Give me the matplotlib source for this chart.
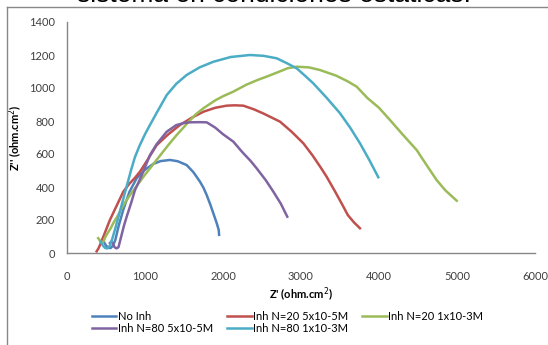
import matplotlib.pyplot as plt
from matplotlib.lines import Line2D

plt.rcParams['font.family'] = ['Lato', 'DejaVu Sans']

# Nyquist data (Z' , Z'')
no_inh_x = [470, 500, 530, 560, 590, 620, 660, 720, 800, 893, 1000, 1107, 1200, 1320, 1420,
            1534, 1620, 1705, 1750, 1791, 1840, 1880, 1920, 1945, 1950]
no_inh_y = [70, 45, 32, 30, 45, 80, 160, 260, 370, 453, 505, 540, 557, 564, 556,
            533, 490, 432, 395, 351, 290, 235, 180, 140, 110]

n20_5_x = [380, 400, 420, 440, 466, 500, 550, 600, 640, 680, 722, 800, 870, 936, 1040, 1150,
           1300, 1449, 1600, 1748, 1900, 2047, 2150, 2260, 2400, 2520, 2645, 2731, 2880,
           3030, 3150, 3250, 3329, 3440, 3543, 3600, 3680, 3756]
n20_5_y = [10, 25, 45, 70, 99, 140, 200, 250, 290, 330, 372, 420, 455, 493, 570, 654,
           720, 776, 820, 856, 880, 893, 895, 893, 870, 845, 816, 796, 735,
           665, 590, 520, 462, 370, 281, 230, 185, 150]

n20_1_x = [400, 430, 450, 470, 490, 520, 560, 592, 650, 700, 750, 808, 900, 1000, 1064, 1200,
           1300, 1406, 1550, 1650, 1748, 1900, 2000, 2132, 2300, 2450, 2560, 2700, 2830,
           2945, 3100, 3243, 3450, 3600, 3714, 3850, 4000, 4141, 4300, 4483, 4600, 4739,
           4850, 4996]
n20_1_y = [90, 70, 60, 72, 95, 120, 150, 180, 225, 270, 310, 351, 410, 475, 513, 595,
           655, 715, 790, 840, 877, 925, 950, 978, 1020, 1050, 1069, 1095, 1120,
           1129, 1125, 1109, 1075, 1040, 1008, 940, 880, 806, 720, 624, 540, 442,
           380, 317]

n80_5_x = [550, 570, 590, 610, 635, 660, 700, 730, 765, 820, 872, 957, 1064, 1150, 1278,
           1400, 1500, 1577, 1700, 1791, 1900, 2000, 2132, 2250, 2350, 2432, 2550, 2645,
           2740, 2824]
n80_5_y = [60, 70, 55, 35, 28, 35, 110, 165, 220, 300, 382, 470, 594, 660, 735,
           775, 788, 792, 793, 792, 760, 720, 675, 610, 560, 513, 440, 372,
           300, 220]

n80_1_x = [430, 460, 490, 520, 550, 580, 620, 660, 700, 740, 780, 820, 870, 930, 1000, 1064,
           1150, 1278, 1400, 1534, 1700, 1876, 2100, 2346, 2520, 2688, 2820, 2945, 3050,
           3158, 3330, 3500, 3630, 3756, 3880, 3991]
n80_1_y = [70, 45, 30, 28, 45, 85, 150, 220, 290, 360, 430, 500, 580, 650, 720, 776,
           850, 957, 1025, 1079, 1125, 1159, 1188, 1200, 1195, 1180, 1150, 1119, 1075,
           1028, 940, 847, 760, 665, 560, 459]

labels = ['No Inh', 'Inh N=20 5x10-5M', 'Inh N=20 1x10-3M',
          'Inh N=80 5x10-5M', 'Inh N=80 1x10-3M']
colors = ['#4F81BD', '#C0504D', '#9BBB59', '#8064A2', '#4BACC6']

fig = plt.figure(figsize=(5.48, 3.45), dpi=100)
ax = fig.add_axes([67/548, 1-253/345, (535-67)/548, (253-22)/345])

series = [(no_inh_x, no_inh_y), (n20_5_x, n20_5_y), (n20_1_x, n20_1_y),
          (n80_5_x, n80_5_y), (n80_1_x, n80_1_y)]
lines = []
for (xs, ys), lab, col in zip(series, labels, colors):
    l, = ax.plot(xs, ys, color=col, lw=1.8, label=lab, solid_joinstyle='round')
    lines.append(l)

ax.set_xlim(0, 6000)
ax.set_ylim(0, 1400)
ax.set_xticks(range(0, 6001, 1000))
ax.set_yticks(range(0, 1401, 200))
for s in ['top', 'right']:
    ax.spines[s].set_visible(False)
for s in ['left', 'bottom']:
    ax.spines[s].set_color('#868686')
    ax.spines[s].set_linewidth(1)
ax.tick_params(length=0, labelsize=8, colors='#404040')
ax.tick_params(axis='y', pad=8.5)
ax.tick_params(axis='x', pad=13)

ax.set_xlabel("Z' (ohm.cm$^2$)", fontsize=8, fontweight='bold', labelpad=3)
ax.set_ylabel("Z'' (ohm.cm$^2$)", fontsize=8, fontweight='bold', labelpad=3)

# legend rows: A B C / D E
order = [0, 3, 1, 4, 2]
fig.legend([lines[i] for i in order], [labels[i] for i in order],
           ncol=3, loc='upper left', bbox_to_anchor=(92/548, 1-311/345),
           frameon=False, fontsize=8, handlelength=2.2, handletextpad=0.1,
           columnspacing=1.3, labelspacing=0.1, borderpad=0, borderaxespad=0)

# chart area border and cut-off title above
fig.add_artist(Line2D([7/548, 7/548], [0, 1-7/345], color='#888888', lw=1))
fig.add_artist(Line2D([7/548, 1], [1-7/345, 1-7/345], color='#888888', lw=1))
fig.text(274/548, 1-2.5/345, 'sistema en condiciones estáticas:', ha='center',
         va='baseline', fontsize=19, family='Liberation Sans', color='black')

fig.savefig('out.png', dpi=100)
